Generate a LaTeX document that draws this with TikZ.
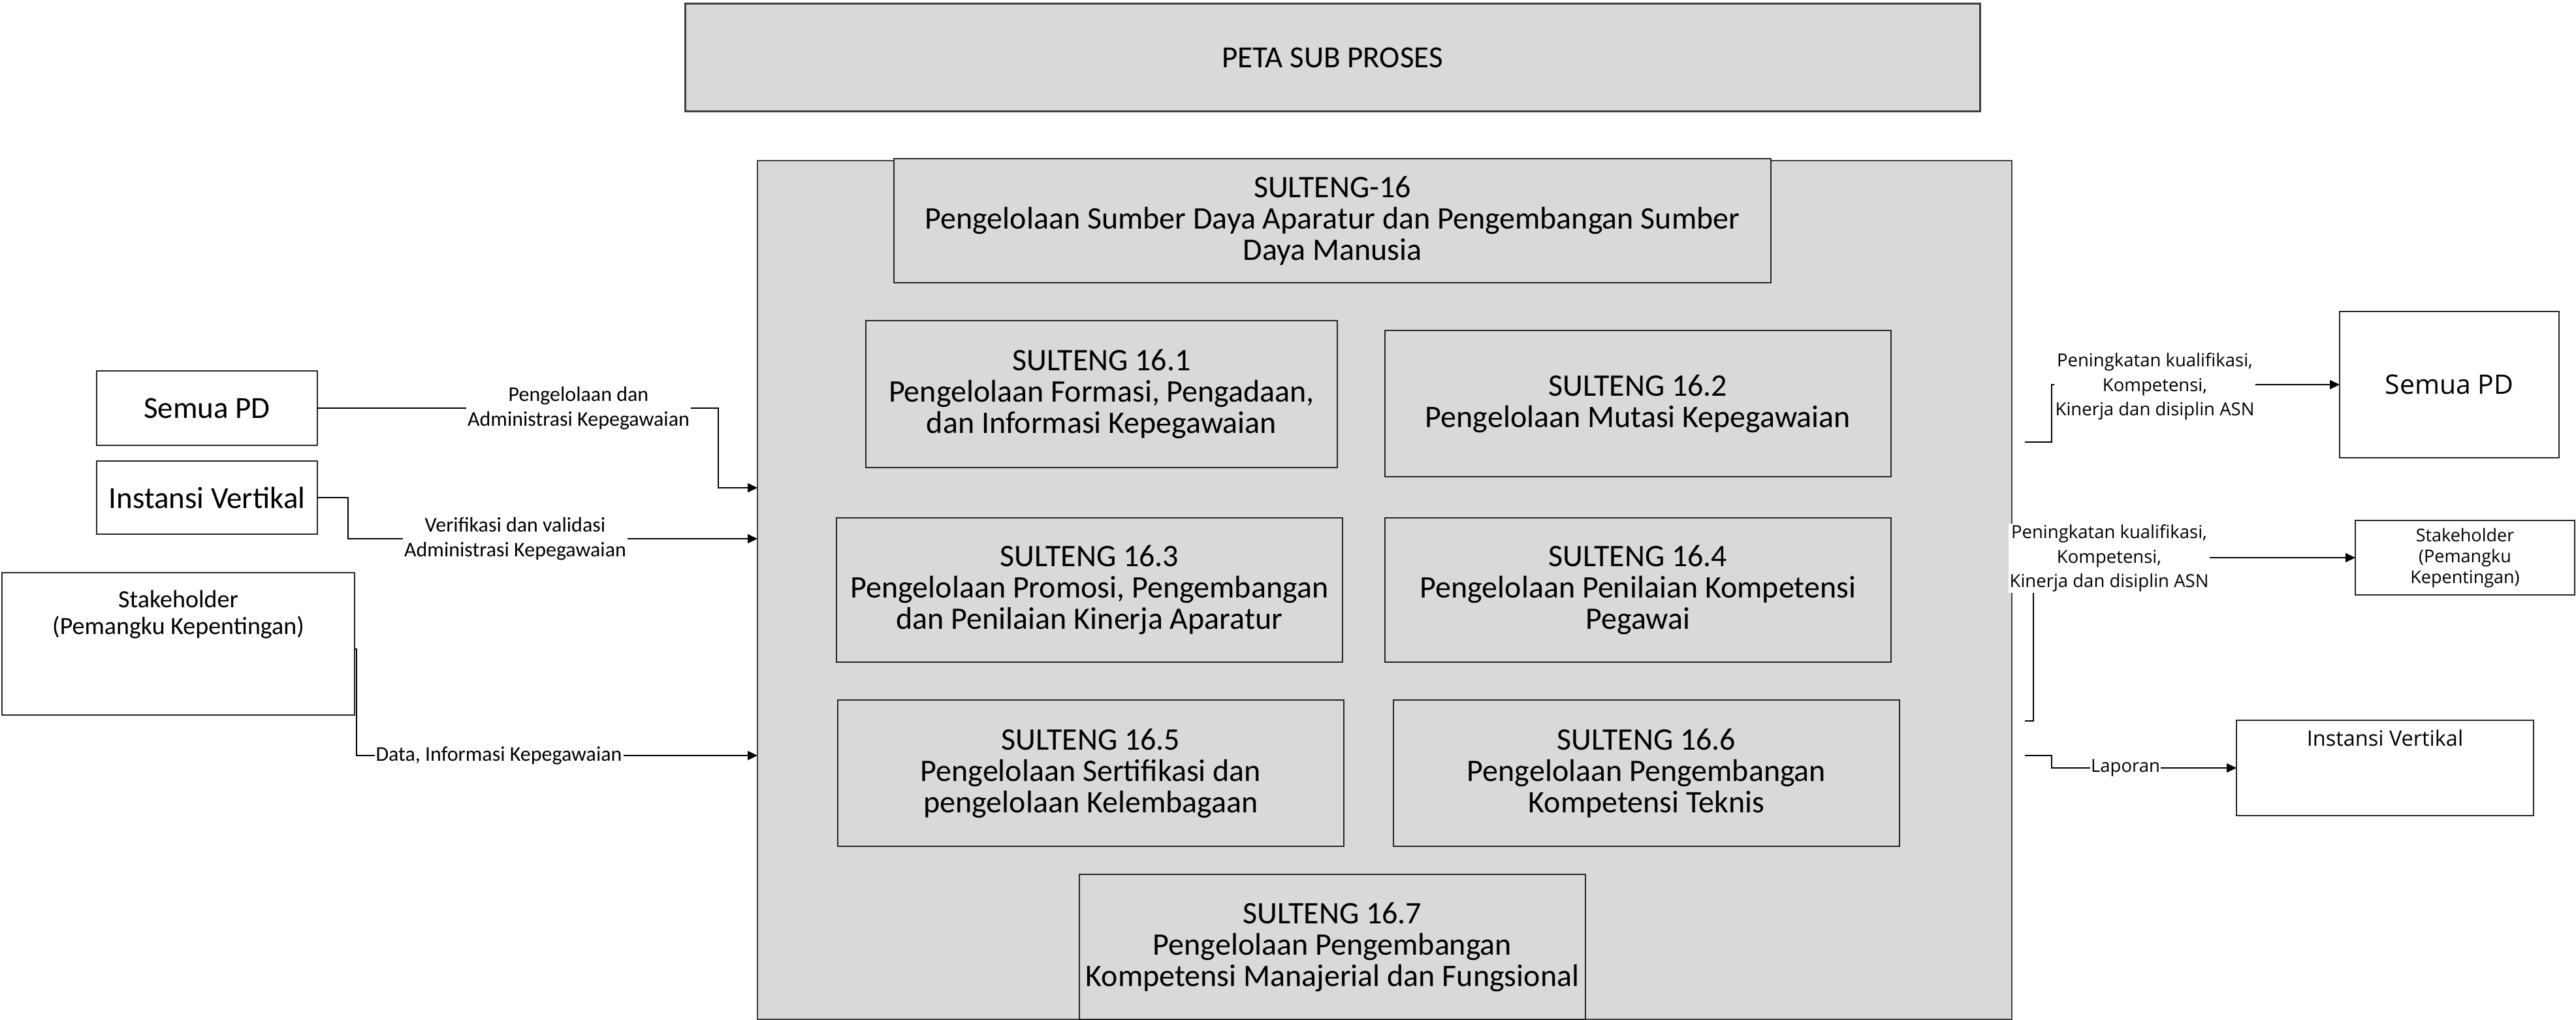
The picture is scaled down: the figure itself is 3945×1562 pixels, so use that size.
\documentclass[tikz,border=0pt]{standalone}
\usepackage{fontspec}
\setmainfont{Carlito}
\newfontfamily\osans{Open Sans}
\usetikzlibrary{arrows.meta}
\definecolor{boxgray}{HTML}{D9D9D9}
\definecolor{edgegray}{HTML}{404040}
\begin{document}
\begin{tikzpicture}[x=1pt,y=-1pt,
  gbox/.style={draw=black!85, line width=1.5pt, fill=boxgray, inner sep=0pt, outer sep=0pt, align=center, font=\fontsize{48}{48}\selectfont},
  wbox/.style={draw=black!85, line width=1.5pt, fill=white, inner sep=0pt, outer sep=0pt, align=center},
  conn/.style={draw=black, line width=1.6pt},
  arr/.style={conn, -{Triangle[length=15pt,width=14pt]}},
  llab/.style={fill=white, inner sep=2pt, align=center, font=\fontsize{32}{38}\selectfont},
  rlab/.style={fill=white, inner sep=2pt, align=center, font=\osans\fontsize{27.5}{37.5}\selectfont},
]
\fill[white] (0,0) rectangle (3945,1562);
\useasboundingbox (0,0) rectangle (3945,1562);

% title
\node[gbox, draw=edgegray, line width=3pt, minimum width=1983pt, minimum height=165pt, font=\fontsize{47}{47}\selectfont] (peta) at (2040.5,88.5) {PETA SUB PROSES};

% main container
\node[gbox, draw=edgegray, minimum width=1921pt, minimum height=1315pt] (main) at (2120.5,903.5) {};

\node[gbox, minimum width=1343pt, minimum height=190pt] (s16) at (2040.5,338) {SULTENG-16\\Pengelolaan Sumber Daya Aparatur dan Pengembangan Sumber\\Daya Manusia};
\node[gbox, minimum width=722pt, minimum height=225pt] (s161) at (1687,603.5) {SULTENG 16.1\\Pengelolaan Formasi, Pengadaan,\\dan Informasi Kepegawaian};
\node[gbox, minimum width=775pt, minimum height=224pt] (s162) at (2508.5,618) {SULTENG 16.2\\Pengelolaan Mutasi Kepegawaian};
\node[gbox, minimum width=775pt, minimum height=221pt] (s163) at (1668.5,903.5) {SULTENG 16.3\\Pengelolaan Promosi, Pengembangan\\dan Penilaian Kinerja Aparatur};
\node[gbox, minimum width=775pt, minimum height=221pt] (s164) at (2508.5,903.5) {SULTENG 16.4\\Pengelolaan Penilaian Kompetensi\\Pegawai};
\node[gbox, minimum width=775pt, minimum height=224pt] (s165) at (1670.5,1184) {SULTENG 16.5\\Pengelolaan Sertifikasi dan\\pengelolaan Kelembagaan};
\node[gbox, minimum width=775pt, minimum height=224pt] (s166) at (2521.5,1184) {SULTENG 16.6\\Pengelolaan Pengembangan\\Kompetensi Teknis};
\node[gbox, minimum width=775pt, minimum height=222pt] (s167) at (2040.5,1450) {SULTENG 16.7\\Pengelolaan Pengembangan\\Kompetensi Manajerial dan Fungsional};

% left boxes
\node[wbox, minimum width=338pt, minimum height=114pt, font=\fontsize{47}{47}\selectfont] (semuaL) at (317,625) {Semua PD};
\node[wbox, minimum width=338pt, minimum height=112pt, font=\fontsize{47}{47}\selectfont] (instL) at (317,762) {Instansi Vertikal};
\node[wbox, minimum width=540pt, minimum height=218pt] (stkL) at (273,986) {};
\node[inner sep=0pt, align=center, anchor=north, font=\fontsize{38}{41}\selectfont] (stkLtext) at (273,904) {Stakeholder\\(Pemangku Kepentingan)};

% right boxes
\node[wbox, minimum width=336pt, minimum height=224pt, font=\osans\fontsize{41}{41}\selectfont] (semuaR) at (3751,589) {Semua PD};
\node[wbox, minimum width=336pt, minimum height=114pt, font=\osans\fontsize{27}{32}\selectfont] (stkR) at (3775,854) {Stakeholder\\(Pemangku\\Kepentingan)};
\node[wbox, minimum width=455pt, minimum height=146pt] (instR) at (3652.5,1176) {};
\node[inner sep=0pt, anchor=north, font=\osans\fontsize{32.5}{32.5}\selectfont] (instRtext) at (3652.5,1118) {Instansi Vertikal};

% left connectors
\draw[arr] (semuaL.east) -- (1100,625) -- (1100,747) -- (main.west |- 0,747);
\node[llab] (l1) at (886,625) {Pengelolaan dan\\Administrasi Kepegawaian};

\draw[arr] (instL.east) -- (533,762) -- (533,825) -- (main.west |- 0,825);
\node[llab] (l2) at (789,825) {Verifikasi dan validasi\\Administrasi Kepegawaian};

\draw[arr] (stkL.east |- 0,994) -- (546,994) -- (546,1157) -- (main.west |- 0,1157);
\node[llab] (l3) at (764,1157) {Data, Informasi Kepegawaian};

% right connectors
\coordinate (r1s) at (3101,677);
\coordinate (r2s) at (3101,1104);
\coordinate (r3s) at (3101,1157);
\draw[arr] (r1s) -- (3142,677) -- (3142,589) -- (semuaR.west);
\node[rlab] (r1) at (3300,592) {Peningkatan kualifikasi,\\Kompetensi,\\Kinerja dan disiplin ASN};

\draw[arr] (r2s) -- (3114,1104) -- (3114,854) -- (stkR.west);
\node[rlab] (r2) at (3230,855) {Peningkatan kualifikasi,\\Kompetensi,\\Kinerja dan disiplin ASN};

\draw[arr] (r3s) -- (3142,1157) -- (3142,1176) -- (instR.west);
\node[rlab, inner sep=1pt] (r3) at (3255,1176) {Laporan};
\end{tikzpicture}
\end{document}
